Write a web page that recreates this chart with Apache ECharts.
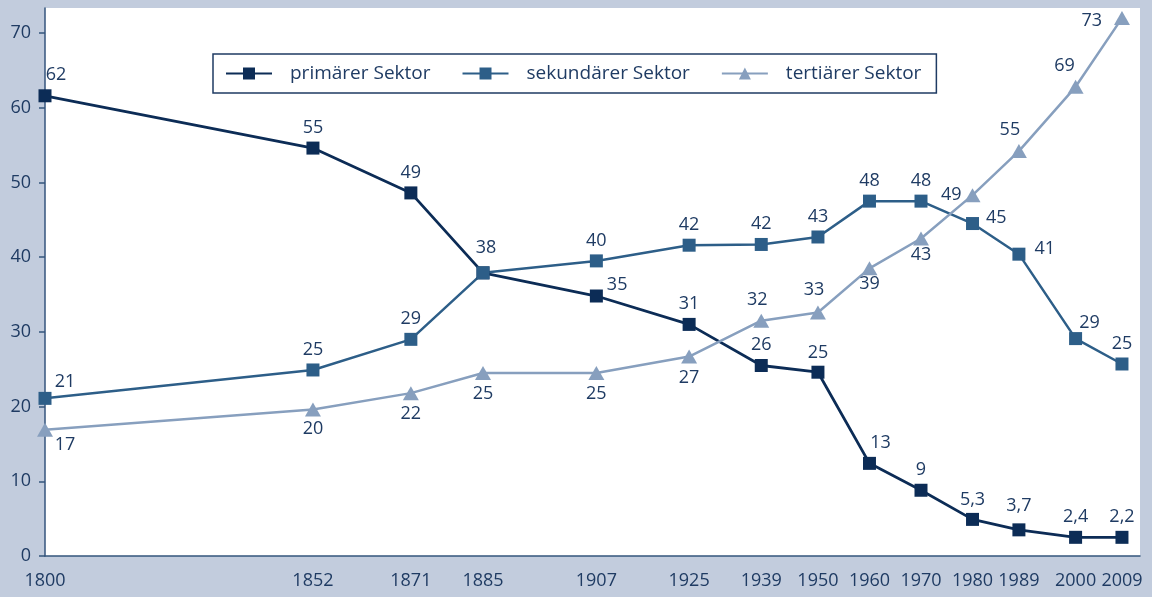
<!DOCTYPE html>
<html>
<head>
<meta charset="utf-8">
<script src="https://cdn.jsdelivr.net/npm/echarts@6/dist/echarts.min.js"></script>
<style>
  html, body { margin: 0; padding: 0; background: #c2ccdd; }
  #chart { width: 1152px; height: 597px; }
</style>
</head>
<body>
<div id="chart"></div>
<script>
// data
const years = [1800, 1852, 1871, 1885, 1907, 1925, 1939, 1950, 1960, 1970, 1980, 1989, 2000, 2009];
const yTicks = [0, 10, 20, 30, 40, 50, 60, 70];

const primaryValues = [61.6, 54.6, 48.6, 37.9, 34.8, 31.0, 25.5, 24.6, 12.4, 8.8, 4.9, 3.5, 2.5, 2.5];
const primaryLabels = ['62', '55', '49', '', '35', '31', '26', '25', '13', '9', '5,3', '3,7', '2,4', '2,2'];

const secondaryValues = [21.1, 24.9, 29.0, 37.9, 39.5, 41.6, 41.7, 42.7, 47.5, 47.5, 44.5, 40.4, 29.1, 25.7];
const secondaryLabels = ['21', '25', '29', '38', '40', '42', '42', '43', '48', '48', '45', '41', '29', '25'];

const tertiaryValues = [16.9, 19.6, 21.8, 24.5, 24.5, 26.7, 31.5, 32.6, 38.5, 42.5, 48.3, 54.2, 62.8, 72.0];
const tertiaryLabels = ['17', '20', '22', '25', '25', '27', '32', '33', '39', '43', '49', '55', '69', '73'];

const seriesNames = ['primärer Sektor', 'sekundärer Sektor', 'tertiärer Sektor'];

const textColor = '#1f3b63';
const axisColor = '#34557c';
const font = 'Open Sans';

// label placement per point: [position, dx, dy, distance]
const primaryPlace = [
  ['top', 11, 0], ['top', 0, 0], ['top', 0, 0], ['top', 0, 0], ['right', 0, -11, 4], ['top', 0, 0], ['top', 0, 0],
  ['top', 0, 1], ['top', 11, 0], ['top', 0, 0], ['top', 0, 1], ['top', 0, -3], ['top', 0, 0], ['top', 0, 0]
];
const secondaryPlace = [
  ['top', 20, 4], ['top', 0, 0], ['top', 0, 0], ['top', 3, -4], ['top', 0, 0], ['top', 0, 0], ['top', 0, 0],
  ['top', 0, 0], ['top', 0, 0], ['top', 0, 0], ['right', 0, -6, 7], ['right', 0, -5, 9], ['top', 14, 5], ['top', 0, 0]
];
const tertiaryPlace = [
  ['bottom', 20, -6], ['bottom', 0, -2], ['bottom', 0, 0], ['bottom', 0, 0], ['bottom', 0, 0], ['bottom', 0, 0], ['top', -4, 0],
  ['top', -4, -2], ['bottom', 0, -5], ['bottom', 0, -5], ['left', 0, 0, 3], ['top', -9, 0], ['top', -11, 0], ['left', 0, 3, 12]
];

function buildData(values, labels, place) {
  return values.map((v, i) => {
    const p = place[i];
    return {
      value: [years[i], v],
      label: {
        show: labels[i] !== '',
        formatter: labels[i],
        position: p[0],
        offset: [p[1], p[2]],
        distance: p[3] !== undefined ? p[3] : 5
      }
    };
  });
}

function makeSeries(name, color, symbol, size, width, values, labels, place) {
  return {
    name: name,
    type: 'line',
    symbol: symbol,
    symbolSize: size,
    showAllSymbol: true,
    lineStyle: { color: color, width: width },
    itemStyle: { color: color },
    label: { color: textColor, fontSize: 18, fontFamily: font },
    emphasis: { disabled: true },
    data: buildData(values, labels, place)
  };
}

const chart = echarts.init(document.getElementById('chart'));
chart.setOption({
  animation: false,
  backgroundColor: '#c2ccdd',
  textStyle: { fontFamily: font },
  grid: {
    left: 45, right: 12, top: 8, bottom: 41,
    show: true, backgroundColor: '#ffffff', borderWidth: 0,
    containLabel: false, outerBoundsMode: 'none'
  },
  legend: {
    left: 213, top: 54,
    padding: [10, 15, 10, 12],
    itemWidth: 46, itemHeight: 15, itemGap: 31,
    backgroundColor: '#ffffff',
    borderColor: '#1f3b63', borderWidth: 1.5,
    textStyle: { color: textColor, fontSize: 19, fontFamily: font, padding: [0, 0, 0, 13] },
    data: seriesNames
  },
  xAxis: {
    type: 'value',
    min: 1800, max: 2012.5,
    axisLine: { show: true, lineStyle: { color: axisColor, width: 1.5 } },
    axisTick: { show: false },
    splitLine: { show: false },
    axisLabel: {
      customValues: years, color: textColor, fontSize: 18, margin: 16, fontFamily: font,
      formatter: v => String(v)
    }
  },
  yAxis: {
    type: 'value',
    min: 0, max: 73.35,
    axisLine: { show: true, lineStyle: { color: axisColor, width: 1.5 } },
    axisTick: { show: true, length: 6, customValues: yTicks, lineStyle: { color: axisColor, width: 1.5 } },
    splitLine: { show: false },
    axisLabel: { customValues: yTicks, color: textColor, fontSize: 18, margin: 14, fontFamily: font }
  },
  series: [
    makeSeries(seriesNames[0], '#0c2c56', 'rect', 13, 2.8, primaryValues, primaryLabels, primaryPlace),
    makeSeries(seriesNames[1], '#2d5e88', 'rect', 13, 2.5, secondaryValues, secondaryLabels, secondaryPlace),
    makeSeries(seriesNames[2], '#879fbe', 'triangle', [16, 14], 2.5, tertiaryValues, tertiaryLabels, tertiaryPlace)
  ]
});
</script>
</body>
</html>
